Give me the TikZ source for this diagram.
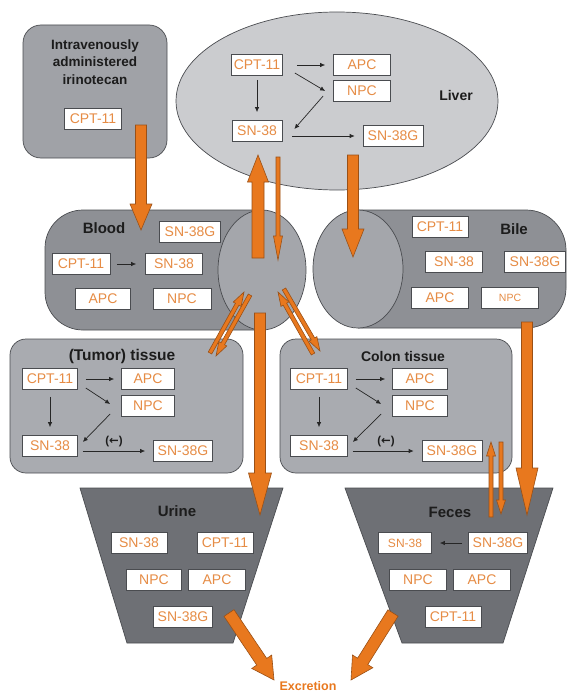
\documentclass[tikz,border=0pt]{standalone}
\usepackage{fontspec}
\setmainfont{Liberation Sans}
\newfontfamily\dejavu{DejaVu Sans}
\usetikzlibrary{calc,arrows.meta}
\definecolor{liverfill}{HTML}{CBCCCF}
\definecolor{ivfill}{HTML}{A0A2A7}
\definecolor{bodyfill}{HTML}{8E9095}
\definecolor{capfill}{HTML}{A4A6AB}
\definecolor{tissuefill}{HTML}{A9ABB0}
\definecolor{trapfill}{HTML}{6E7075}
\definecolor{edge}{HTML}{4A4C50}
\definecolor{labelor}{HTML}{E68C45}
\definecolor{orfill}{HTML}{E8781E}
\definecolor{ordraw}{HTML}{9A5016}
\definecolor{titlecol}{HTML}{1C1C1C}
\newcommand\fatarr[5]{%
  \path (#1) coordinate (fa0) (#2) coordinate (fa1);
  \path ($(fa1)!#5!(fa0)$) coordinate (fah);
  \filldraw[orangearr] ($(fa0)!#3!90:(fa1)$) -- ($(fah)!#3!90:(fa1)$) -- ($(fah)!#4!90:(fa1)$) -- (fa1) -- ($(fah)!#4!-90:(fa1)$) -- ($(fah)!#3!-90:(fa1)$) -- ($(fa0)!#3!-90:(fa1)$) -- cycle;}
\tikzset{
  orangearr/.style={fill=orfill, draw=ordraw, line width=0.6pt, line join=miter},
  lbl/.style={draw=edge, fill=white, text=labelor, font=\fontsize{14}{16}\selectfont, minimum height=21pt, minimum width=56pt, inner sep=1pt, line width=0.7pt},
  title/.style={font=\bfseries\fontsize{15}{17}\selectfont, text=titlecol},
  blk/.style={-{Latex[length=5pt,width=4.5pt]}, line width=0.7pt, draw=black!85},
  region/.style={draw=edge, line width=0.7pt}
}
\begin{document}
\begin{tikzpicture}[x=1pt,y=-1pt]
\useasboundingbox (0,0) rectangle (568,693);
% regions
\filldraw[region, fill=liverfill] (337,101) ellipse [x radius=161pt, y radius=89pt];
\filldraw[region, fill=ivfill, rounded corners=18pt] (23,25) rectangle (167,158);
\filldraw[region, fill=bodyfill, rounded corners=38pt] (262,210) -- (45,210) -- (45,330) -- (262,330);
\filldraw[region, fill=capfill] (262,270) ellipse [x radius=44pt, y radius=60pt];
\filldraw[region, fill=bodyfill, rounded corners=40pt] (358,210) -- (566,210) -- (566,328) -- (358,328);
\filldraw[region, fill=capfill] (358,269) ellipse [x radius=45pt, y radius=59pt];
\filldraw[region, fill=tissuefill, rounded corners=16pt] (10,339) rectangle (243,473);
\filldraw[region, fill=tissuefill, rounded corners=16pt] (280,339) rectangle (512,473);
\filldraw[region, fill=trapfill] (80,488) -- (283,488) -- (233,643) -- (127,643) -- cycle;
\filldraw[region, fill=trapfill] (345,488) -- (553,488) -- (503,643) -- (402,643) -- cycle;
% fat arrows
\coordinate (ivS) at (141,125); \coordinate (ivT) at (141,230);
\coordinate (bl2lvS) at (258,258); \coordinate (bl2lvT) at (258,155);
\coordinate (lv2blS) at (278,157); \coordinate (lv2blT) at (278,260);
\coordinate (lv2biS) at (353,155); \coordinate (lv2biT) at (353,257);
\coordinate (bl2urS) at (260,313); \coordinate (bl2urT) at (260,515);
\coordinate (bi2feS) at (527,322); \coordinate (bi2feT) at (527,515);
\coordinate (ur2exS) at (229,613); \coordinate (ur2exT) at (274,680);
\coordinate (fe2exS) at (393,613); \coordinate (fe2exT) at (351,680);
\coordinate (tu2blS) at (210,353); \coordinate (tu2blT) at (244,292);
\coordinate (bl2tuS) at (250,295); \coordinate (bl2tuT) at (216,356);
\coordinate (co2blS) at (313,354); \coordinate (co2blT) at (278,292);
\coordinate (bl2coS) at (284,289); \coordinate (bl2coT) at (320,351);
\coordinate (fe2coS) at (491,517); \coordinate (fe2coT) at (491,442);
\coordinate (co2feS) at (501,442); \coordinate (co2feT) at (501,514);
\fatarr{ivS}{ivT}{5.5pt}{11pt}{26pt}
\fatarr{bl2lvS}{bl2lvT}{6pt}{10.5pt}{27pt}
\fatarr{lv2blS}{lv2blT}{2pt}{4.5pt}{24pt}
\fatarr{lv2biS}{lv2biT}{5.5pt}{11pt}{28pt}
\fatarr{bl2urS}{bl2urT}{5.5pt}{11.5pt}{42pt}
\fatarr{bi2feS}{bi2feT}{5.5pt}{11pt}{47pt}
\fatarr{ur2exS}{ur2exT}{6pt}{12pt}{22pt}
\fatarr{fe2exS}{fe2exT}{6pt}{12pt}{22pt}
\fatarr{tu2blS}{tu2blT}{2pt}{4.5pt}{14pt}
\fatarr{bl2tuS}{bl2tuT}{2pt}{4.5pt}{14pt}
\fatarr{co2blS}{co2blT}{2pt}{4.5pt}{14pt}
\fatarr{bl2coS}{bl2coT}{2pt}{4.5pt}{14pt}
\fatarr{fe2coS}{fe2coT}{2pt}{4.5pt}{14pt}
\fatarr{co2feS}{co2feT}{2pt}{4.5pt}{14pt}
% IV box
\node[title, font=\bfseries\fontsize{13.5}{17.5}\selectfont, align=center] (ivt) at (95,62) {Intravenously\\administered\\irinotecan};
\node[lbl, minimum width=57pt] (ivCPT) at (93,119) {CPT-11};
% Liver
\node[title, font=\bfseries\fontsize{14}{16}\selectfont] (livt) at (456,95) {Liver};
\node[lbl, minimum width=51pt] (lCPT) at (257,65) {CPT-11};
\node[lbl, minimum width=57pt] (lAPC) at (362,65) {APC};
\node[lbl, minimum width=57pt] (lNPC) at (362,91) {NPC};
\node[lbl, minimum width=50pt] (lSN) at (257,131) {SN-38};
\node[lbl, minimum width=60pt] (lSNG) at (393,136) {SN-38G};
\draw[blk] ([shift={(14,0)}]lCPT.east) -- ([shift={(-8,0)}]lAPC.west);
\draw[blk] ([shift={(12,8)}]lCPT.east) -- ([shift={(-8,0)}]lNPC.west);
\draw[blk] ([shift={(-10,5)}]lNPC.west) -- ([shift={(12,-2)}]lSN.east);
\draw[blk] ([shift={(0,4)}]lCPT.south) -- ([shift={(0,-8)}]lSN.north);
\draw[blk] ([shift={(10,5)}]lSN.east) -- ([shift={(-8,0)}]lSNG.west);
% Blood
\node[title] (bldt) at (104,228) {Blood};
\node[lbl, minimum width=61pt] (bSNG) at (190,232) {SN-38G};
\node[lbl, minimum width=58pt] (bCPT) at (81,264) {CPT-11};
\node[lbl, minimum width=57pt] (bSN) at (174,264) {SN-38};
\node[lbl, minimum width=55pt] (bAPC) at (103,299) {APC};
\node[lbl, minimum width=58pt] (bNPC) at (182,299) {NPC};
\draw[blk] ([shift={(7,0)}]bCPT.east) -- ([shift={(-9,0)}]bSN.west);
% Bile
\node[title] (bilt) at (514,229) {Bile};
\node[lbl, minimum width=56pt] (iCPT) at (440,227) {CPT-11};
\node[lbl, minimum width=57pt] (iSN) at (454,262) {SN-38};
\node[lbl, minimum width=61pt] (iSNG) at (535,262) {SN-38G};
\node[lbl, minimum width=57pt] (iAPC) at (440,298) {APC};
\node[lbl, minimum width=57pt, font=\fontsize{10.5}{12}\selectfont] (iNPC) at (510,298) {NPC};
% Tumor tissue
\node[title, font=\bfseries\fontsize{15.5}{17}\selectfont] (tut) at (122,356) {(Tumor) tissue};
\node[lbl, minimum width=55pt] (tCPT) at (50,379) {CPT-11};
\node[lbl, minimum width=53pt] (tAPC) at (148,379) {APC};
\node[lbl, minimum width=53pt] (tNPC) at (148,406) {NPC};
\node[lbl, minimum width=55pt] (tSN) at (50,446) {SN-38};
\node[lbl, minimum width=59pt] (tSNG) at (183,451) {SN-38G};
\draw[blk] ([shift={(8,0)}]tCPT.east) -- ([shift={(-7,0)}]tAPC.west);
\draw[blk] ([shift={(8,9)}]tCPT.east) -- ([shift={(-11,-2)}]tNPC.west);
\draw[blk] ([shift={(-11,8)}]tNPC.west) -- ([shift={(5,-4)}]tSN.east);
\draw[blk] ([shift={(0,7)}]tCPT.south) -- ([shift={(0,-8)}]tSN.north);
\draw[blk] ([shift={(5,5)}]tSN.east) -- ([shift={(-8,0)}]tSNG.west);
\node[font=\bfseries\fontsize{11.5}{13}\selectfont, text=titlecol] (trev) at (114,442) {({\dejavu\bfseries ←})};
% Colon tissue
\node[title, font=\bfseries\fontsize{14}{16}\selectfont] (cot) at (403,356) {Colon tissue};
\node[lbl, minimum width=57pt] (cCPT) at (319,379) {CPT-11};
\node[lbl, minimum width=55pt] (cAPC) at (420,379) {APC};
\node[lbl, minimum width=55pt] (cNPC) at (420,406) {NPC};
\node[lbl, minimum width=57pt] (cSN) at (319,446) {SN-38};
\node[lbl, minimum width=60pt] (cSNG) at (452,451) {SN-38G};
\draw[blk] ([shift={(8,0)}]cCPT.east) -- ([shift={(-7,0)}]cAPC.west);
\draw[blk] ([shift={(8,9)}]cCPT.east) -- ([shift={(-11,-2)}]cNPC.west);
\draw[blk] ([shift={(-11,8)}]cNPC.west) -- ([shift={(5,-4)}]cSN.east);
\draw[blk] ([shift={(0,7)}]cCPT.south) -- ([shift={(0,-8)}]cSN.north);
\draw[blk] ([shift={(5,5)}]cSN.east) -- ([shift={(-8,0)}]cSNG.west);
\node[font=\bfseries\fontsize{11.5}{13}\selectfont, text=titlecol] (crev) at (386,442) {({\dejavu\bfseries ←})};
% Urine
\node[title] (urt) at (177,511) {Urine};
\node[lbl, minimum width=56pt] (uSN) at (139,543) {SN-38};
\node[lbl, minimum width=56pt] (uCPT) at (225,543) {CPT-11};
\node[lbl, minimum width=55pt] (uNPC) at (154,580) {NPC};
\node[lbl, minimum width=57pt] (uAPC) at (217,580) {APC};
\node[lbl, minimum width=59pt] (uSNG) at (183,617) {SN-38G};
% Feces
\node[title] (fet) at (450,512) {Feces};
\node[lbl, minimum width=53pt, font=\fontsize{12}{14}\selectfont] (fSN) at (405,543) {SN-38};
\node[lbl, minimum width=59pt] (fSNG) at (498,543) {SN-38G};
\node[lbl, minimum width=57pt] (fNPC) at (418,580) {NPC};
\node[lbl, minimum width=57pt] (fAPC) at (482,580) {APC};
\node[lbl, minimum width=56pt] (fCPT) at (453,617) {CPT-11};
\draw[blk] ([shift={(-6,0)}]fSNG.west) -- ([shift={(8,0)}]fSN.east);
% Excretion
\node[font=\bfseries\fontsize{12.5}{14}\selectfont, text=orfill] (exc) at (308,686) {Excretion};
\end{tikzpicture}
\end{document}
